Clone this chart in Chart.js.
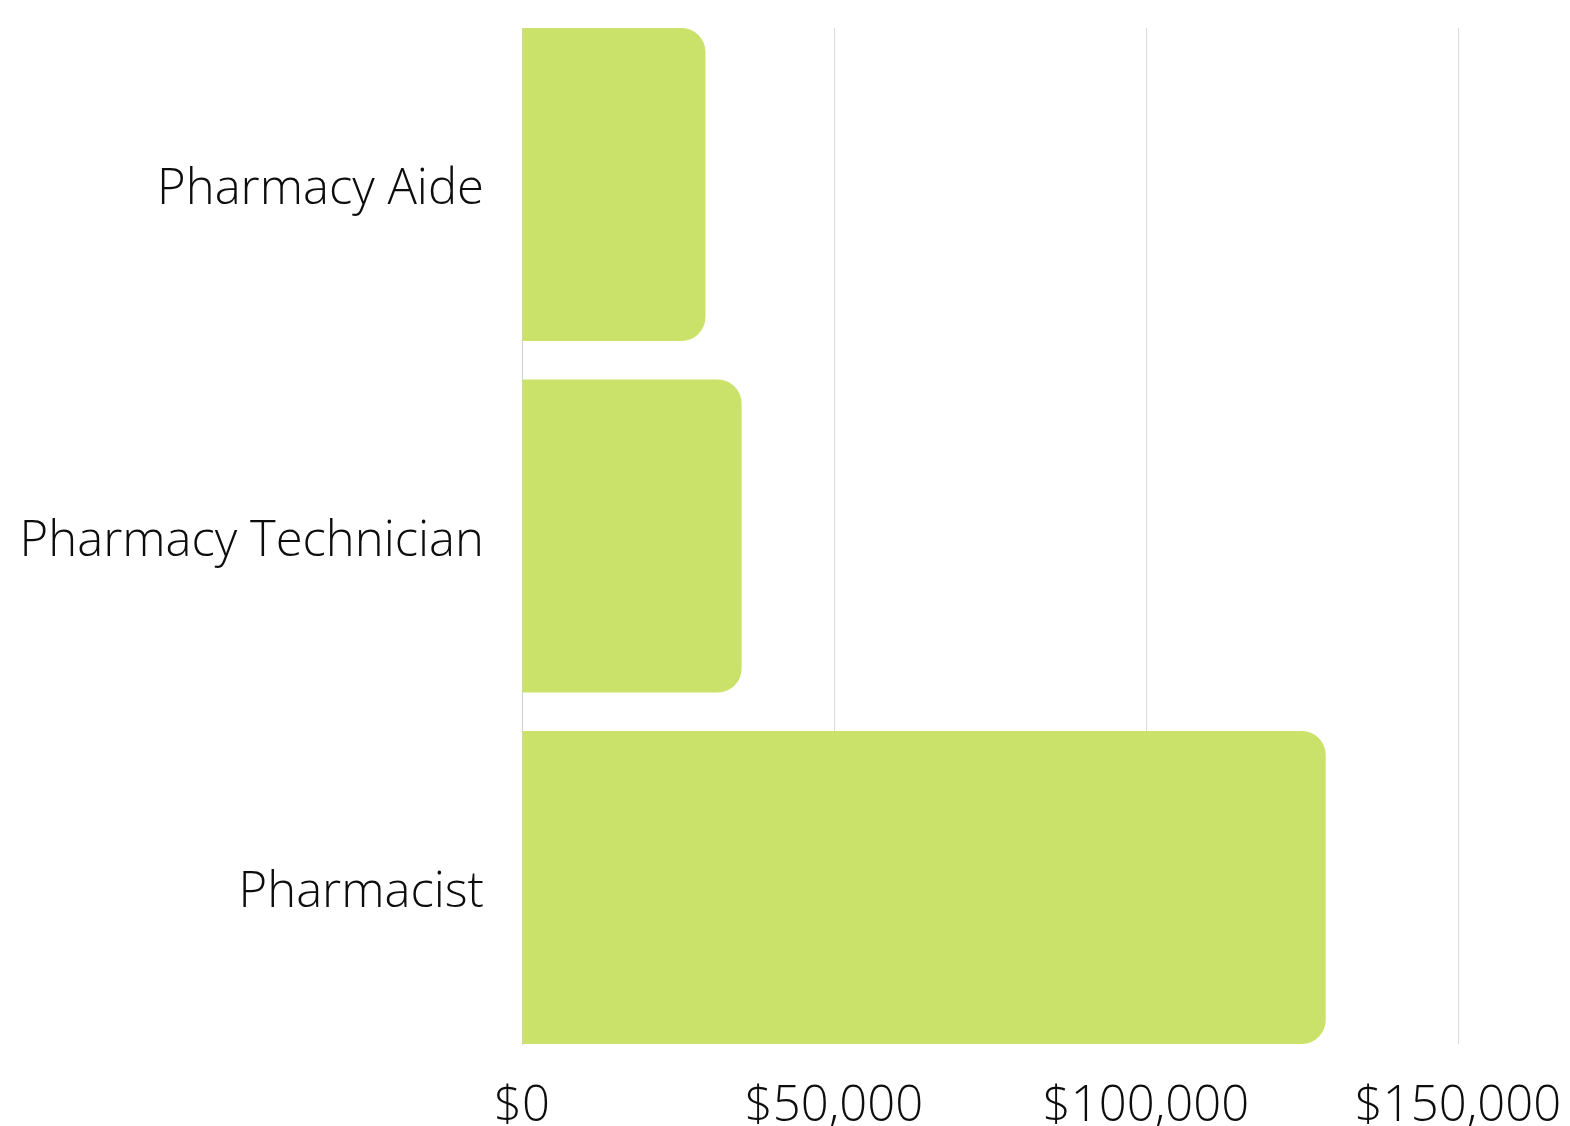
<!DOCTYPE html>
<html>
<head>
<meta charset="utf-8">
<script src="https://cdn.jsdelivr.net/npm/chart.js@4/dist/chart.umd.min.js"></script>
<style>
  html, body { margin: 0; padding: 0; background: #fff; }
  #wrap { width: 1570px; height: 1126px; }
</style>
</head>
<body>
<div id="wrap"><canvas id="salaryChart"></canvas></div>
<script>
'use strict';

var categories = ["Pharmacy Aide", "Pharmacy Technician", "Pharmacist"];
var salaries = [29400, 35200, 128800];
var xTicks = [0, 50000, 100000, 150000];

var barGreen = 'rgb(203, 226, 106)';
var fontFamily = "'Open Sans', sans-serif";

var ctx = document.getElementById('salaryChart');

var salaryChart = new Chart(ctx, {
    type: 'bar',
    data: {
        datasets: [
            {
                label: "Median pay",
                data: salaries.map(function (v, i) { return { x: v, y: i }; }),
                backgroundColor: barGreen,
                borderWidth: 0,
                borderRadius: 24,
                borderSkipped: 'start',
                categoryPercentage: 1,
                barPercentage: 0.8905
            }
        ]
    },
    options: {
        indexAxis: 'y',
        responsive: true,
        maintainAspectRatio: false,
        animation: false,
        layout: {
            padding: { top: 28, right: 112, left: 0, bottom: 0 }
        },
        plugins: {
            legend: { display: false },
            tooltip: { enabled: false }
        },
        scales: {
            x: {
                type: 'linear',
                min: 0,
                max: 150000,
                afterBuildTicks: function (scale) {
                    scale.ticks = xTicks.map(function (v) { return { value: v }; });
                },
                grid: { color: '#dcdcdc', lineWidth: 1, drawTicks: false },
                border: { display: false },
                ticks: {
                    padding: 34,
                    color: '#0d0d0d',
                    font: { family: fontFamily, size: 49, weight: 300 },
                    callback: function (v) { return '$' + Number(v).toLocaleString('en-US'); }
                },
                afterFit: function (scale) {
                    scale.height = 82;
                    scale.paddingLeft = 0;
                    scale.paddingRight = 0;
                }
            },
            y: {
                type: 'linear',
                reverse: true,
                offset: false,
                min: -0.4452,
                max: 2.4452,
                afterBuildTicks: function (scale) {
                    scale.ticks = categories.map(function (c, i) { return { value: i }; });
                },
                grid: { display: false, drawTicks: false, offset: false },
                border: { display: true, color: '#d0d0d0', width: 1 },
                ticks: {
                    padding: 38,
                    labelOffset: 6,
                    color: '#0d0d0d',
                    font: { family: fontFamily, size: 49, weight: 300 },
                    callback: function (v) { return categories[v]; }
                },
                afterFit: function (scale) {
                    scale.width = 522;
                    scale.paddingTop = 0;
                    scale.paddingBottom = 0;
                }
            }
        }
    }
});
</script>
</body>
</html>
